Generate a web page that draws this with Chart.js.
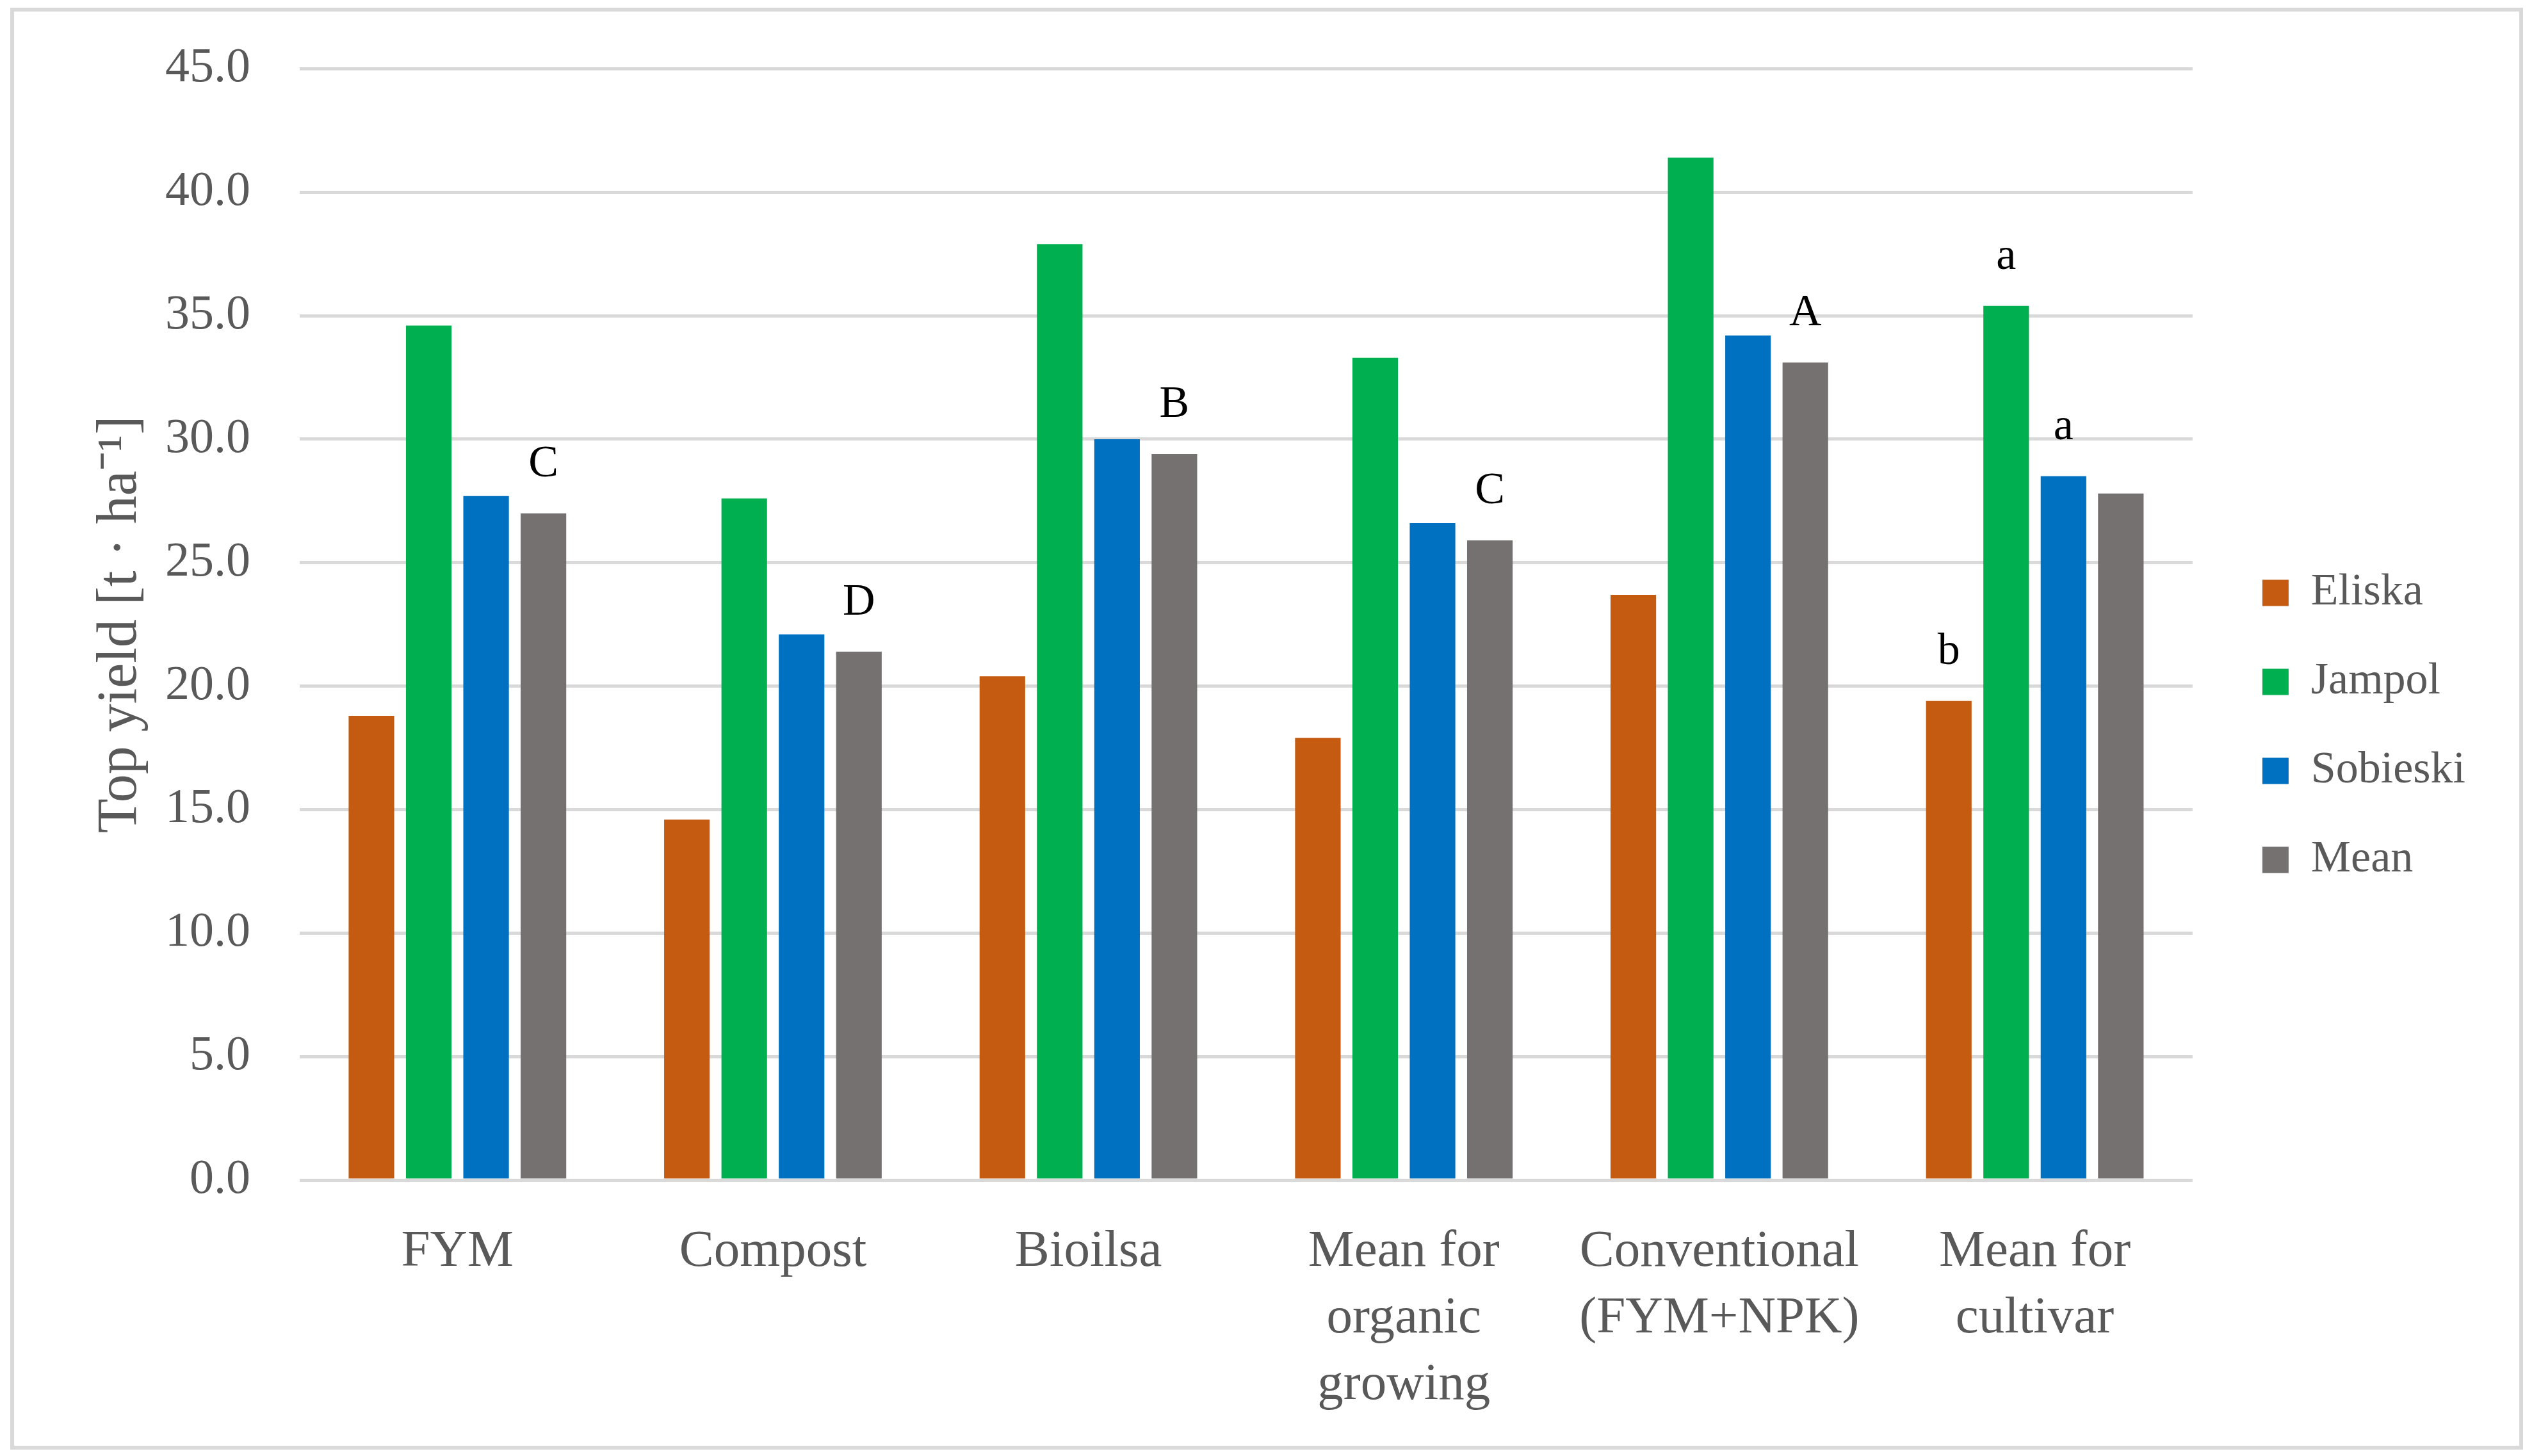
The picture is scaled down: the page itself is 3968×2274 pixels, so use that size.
<!DOCTYPE html>
<html><head><meta charset="utf-8">
<script src="https://cdn.jsdelivr.net/npm/chart.js@4"></script>
<style>html,body{margin:0;padding:0;background:#fff;overflow:hidden;} canvas{display:block;}</style>
</head><body>
<canvas id="c" width="3968" height="2274" style="width:3968px;height:2274px"></canvas>
<script>
const categories = [['FYM'], ['Compost'], ['Bioilsa'], ['Mean for', 'organic', 'growing'], ['Conventional', '(FYM+NPK)'], ['Mean for', 'cultivar']];
const seriesNames = ['Eliska', 'Jampol', 'Sobieski', 'Mean'];
const eliska   = [18.8, 14.6, 20.4, 17.9, 23.7, 19.4];
const jampol   = [34.6, 27.6, 37.9, 33.3, 41.4, 35.4];
const sobieski = [27.7, 22.1, 30.0, 26.6, 34.2, 28.5];
const meanVals = [27.0, 21.4, 29.4, 25.9, 33.1, 27.8];
const lettersEliska   = [null, null, null, null, null, 'b'];
const lettersJampol   = [null, null, null, null, null, 'a'];
const lettersSobieski = [null, null, null, null, null, 'a'];
const lettersMean     = ['C', 'D', 'B', 'C', 'A', null];
const yTitle = 'Top yield [t \u00B7 ha\u207B\u00B9]';
const yMin = 0, yMax = 45, yStep = 5;

const colors = ['#C55A11', '#00B050', '#0070C0', '#767171'];
const values = [eliska, jampol, sobieski, meanVals];
const letters = [lettersEliska, lettersJampol, lettersSobieski, lettersMean];
const FONT = "'Liberation Serif', 'Times New Roman', serif";

const letterPlugin = {
  id: 'letters',
  afterDatasetsDraw(chart) {
    const ctx = chart.ctx;
    ctx.save();
    ctx.font = "70px " + FONT;
    ctx.fillStyle = '#000000';
    ctx.textAlign = 'center';
    ctx.textBaseline = 'alphabetic';
    chart.data.datasets.forEach((ds, d) => {
      const meta = chart.getDatasetMeta(d);
      ds.letters.forEach((l, i) => {
        if (!l) return;
        const el = meta.data[i];
        ctx.fillText(l, el.x, el.y - 58);
      });
    });
    ctx.restore();
  }
};
const framePlugin = {
  id: 'frame',
  beforeDraw(chart) {
    const ctx = chart.ctx;
    ctx.save();
    ctx.fillStyle = '#ffffff';
    ctx.fillRect(0, 0, chart.width, chart.height);
    ctx.strokeStyle = '#D9D9D9';
    ctx.lineWidth = 6;
    ctx.strokeRect(19, 15, 3918, 2246);
    ctx.restore();
  }
};
const legendShift = {
  id: 'legendShift',
  afterLayout(chart) {
    const lg = chart.legend;
    if (lg) { lg.left += 40; lg.right += 40; lg.top -= 41; lg.bottom -= 41; }
  }
};

new Chart(document.getElementById('c'), {
  type: 'bar',
  data: {
    labels: categories,
    datasets: seriesNames.map((n, k) => ({
      label: n,
      data: values[k],
      letters: letters[k],
      backgroundColor: colors[k],
      borderWidth: 0,
      barPercentage: 0.795,
      categoryPercentage: 0.727
    }))
  },
  options: {
    responsive: false,
    devicePixelRatio: 1,
    animation: false,
    layout: { padding: { left: 40, right: 148, top: 107, bottom: 30 } },
    plugins: {
      tooltip: { enabled: false },
      legend: {
        position: 'right',
        align: 'center',
        labels: {
          boxWidth: 41, boxHeight: 41, padding: 69,
          color: '#595959',
          font: { family: FONT, size: 70 }
        }
      }
    },
    scales: {
      x: {
        grid: { display: false, drawTicks: false },
        border: { display: false },
        ticks: {
          color: '#595959', padding: 61, maxRotation: 0, autoSkip: false,
          font: { family: FONT, size: 81, lineHeight: 1.284 }
        },
        afterFit(s) { s.height = 401; }
      },
      y: {
        min: yMin, max: yMax,
        grid: { color: '#D9D9D9', lineWidth: 5, drawTicks: false },
        border: { display: false },
        ticks: {
          stepSize: yStep, color: '#595959', padding: 77,
          font: { family: FONT, size: 76, lineHeight: 0.8 },
          callback: v => Number(v).toFixed(1)
        },
        title: {
          display: true, text: yTitle, color: '#595959',
          font: { family: FONT, size: 88, lineHeight: 1.2 },
          padding: { top: 96, bottom: 0 }
        },
        afterFit(s) { s.width = 428; }
      }
    }
  },
  plugins: [framePlugin, letterPlugin, legendShift]
});
</script>
</body></html>
